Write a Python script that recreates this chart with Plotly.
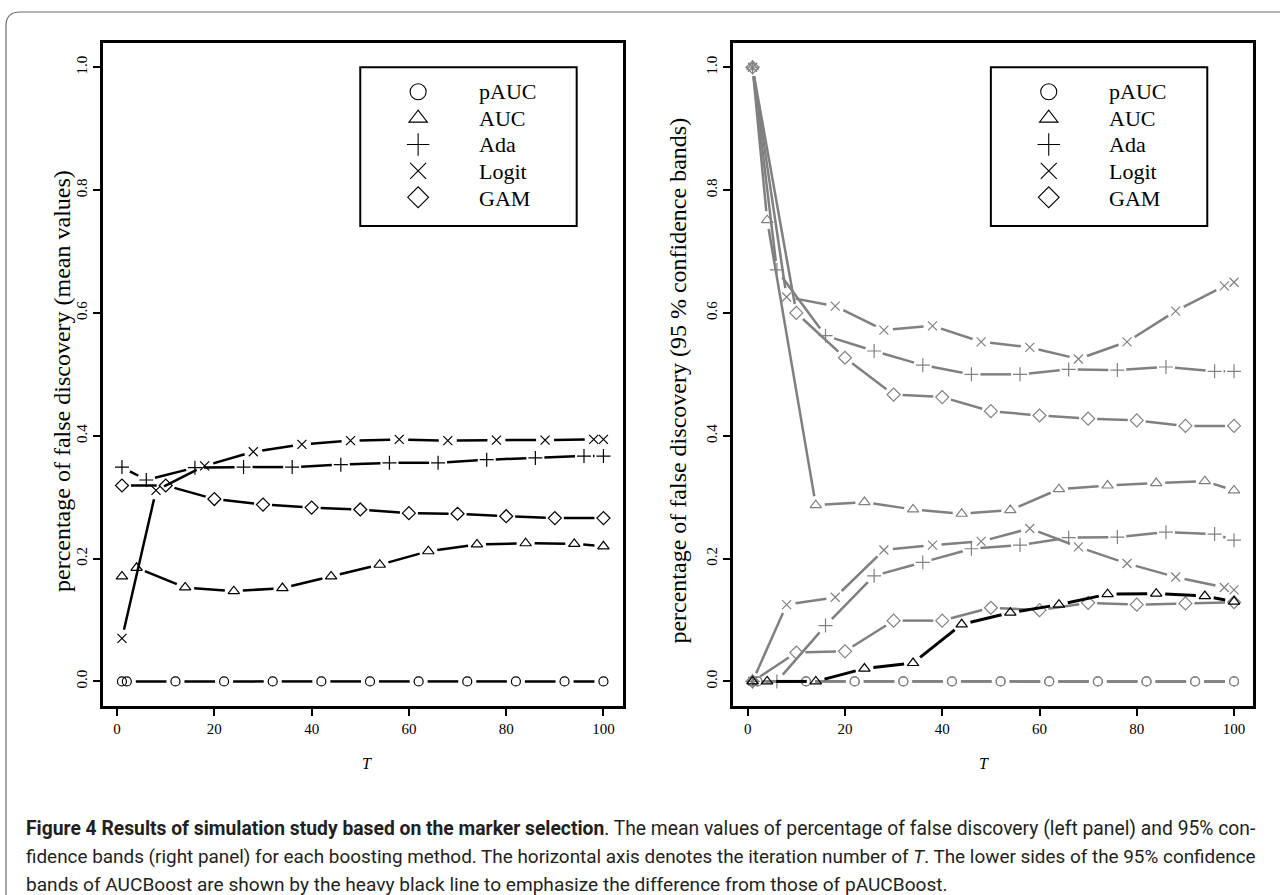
import math
import plotly.graph_objects as go

W, H = 1280, 895

# ---------------- data ----------------
methods = ["pAUC", "AUC", "Ada", "Logit", "GAM"]

T_pAUC = [1, 2, 12, 22, 32, 42, 52, 62, 72, 82, 92, 100]
T_AUC = [1, 4, 14, 24, 34, 44, 54, 64, 74, 84, 94, 100]
T_Ada = [1, 6, 16, 26, 36, 46, 56, 66, 76, 86, 96, 100]
T_Logit = [1, 8, 18, 28, 38, 48, 58, 68, 78, 88, 98, 100]
T_GAM = [1, 10, 20, 30, 40, 50, 60, 70, 80, 90, 100]

# left panel: mean values
pAUC_mean = [0.0, 0.0, 0.0, 0.0, 0.0, 0.0, 0.0, 0.0, 0.0, 0.0, 0.0, 0.0]
AUC_mean = [0.171, 0.185, 0.153, 0.147, 0.152, 0.171, 0.190, 0.212, 0.223, 0.225, 0.224, 0.220]
Ada_mean = [0.349, 0.328, 0.348, 0.349, 0.349, 0.353, 0.356, 0.356, 0.361, 0.364, 0.367, 0.367]
Logit_mean = [0.070, 0.311, 0.351, 0.374, 0.386, 0.392, 0.394, 0.392, 0.393, 0.393, 0.394, 0.394]
GAM_mean = [0.319, 0.319, 0.297, 0.288, 0.283, 0.280, 0.274, 0.273, 0.269, 0.266, 0.266]

# right panel: 95% confidence bands (upper / lower)
pAUC_up = [0.0, 0.0, 0.0, 0.0, 0.0, 0.0, 0.0, 0.0, 0.0, 0.0, 0.0, 0.0]
AUC_up = [1.0, 0.751, 0.287, 0.292, 0.280, 0.273, 0.279, 0.313, 0.319, 0.323, 0.326, 0.311]
Ada_up = [1.0, 0.670, 0.563, 0.538, 0.515, 0.500, 0.500, 0.508, 0.507, 0.512, 0.505, 0.505]
Logit_up = [1.0, 0.626, 0.611, 0.572, 0.579, 0.553, 0.544, 0.525, 0.553, 0.603, 0.644, 0.650]
GAM_up = [1.0, 0.600, 0.527, 0.467, 0.463, 0.440, 0.433, 0.428, 0.425, 0.416, 0.416]

pAUC_lo = [0.0, 0.0, 0.0, 0.0, 0.0, 0.0, 0.0, 0.0, 0.0, 0.0, 0.0, 0.0]
AUC_lo = [0.0, 0.0, 0.0, 0.021, 0.030, 0.093, 0.112, 0.125, 0.142, 0.143, 0.139, 0.130]
Ada_lo = [0.0, 0.0, 0.091, 0.172, 0.194, 0.216, 0.222, 0.234, 0.235, 0.243, 0.240, 0.230]
Logit_lo = [0.0, 0.125, 0.137, 0.214, 0.222, 0.228, 0.249, 0.219, 0.192, 0.170, 0.153, 0.149]
GAM_lo = [0.0, 0.047, 0.049, 0.099, 0.099, 0.120, 0.116, 0.128, 0.125, 0.127, 0.129]

x_ticks = [0, 20, 40, 60, 80, 100]
y_ticks = [0.0, 0.2, 0.4, 0.6, 0.8, 1.0]

left_ylabel = "percentage of false discovery (mean values)"
right_ylabel = "percentage of false discovery (95 % confidence bands)"
caption_lines = [
    "<b>Figure 4 Results of simulation study based on the marker selection</b>. The mean values of percentage of false discovery (left panel) and 95% con-",
    "fidence bands (right panel) for each boosting method. The horizontal axis denotes the iteration number of <i>T</i>. The lower sides of the 95% confidence",
    "bands of AUCBoost are shown by the heavy black line to emphasize the difference from those of pAUCBoost.",
]
caption_sizes = [19.3, 18.9, 19.1]

# ---------------- geometry / styles ----------------
def PX(x):
    return x / W

def PY(y):
    return 1 - y / H

XR = [-2.96, 103.96]
YR = [-0.04, 1.04]
FRAME_L, FRAME_R = (102.7, 622.7), (733.3, 1253.3)
FRAME_TOP, FRAME_BOT = 42.7, 706.0
PLOT_W, PLOT_H = 520.0, FRAME_BOT - FRAME_TOP
KX = PLOT_W / (XR[1] - XR[0])
KY = PLOT_H / (YR[1] - YR[0])

SERIF = "Liberation Serif"
GRAY = "#808080"
symbols = {"pAUC": "circle-open", "AUC": "triangle-up-open", "Ada": "cross-thin-open",
           "Logit": "x-thin-open", "GAM": "diamond-open"}
msize = {"pAUC": 9, "AUC": 10, "Ada": 10, "Logit": 9, "GAM": 10}


def gapped(xs, ys, gap=9.0):
    """R type='b' style: segments between points with gaps around the points."""
    gx, gy = [], []
    for i in range(len(xs) - 1):
        dx = xs[i + 1] - xs[i]
        dy = ys[i + 1] - ys[i]
        L = math.hypot(dx * KX, dy * KY)
        if L <= 2 * gap:
            continue
        f = gap / L
        gx += [xs[i] + f * dx, xs[i + 1] - f * dx, None]
        gy += [ys[i] + f * dy, ys[i + 1] - f * dy, None]
    return gx, gy


fig = go.Figure()


def add_series(xs, ys, name, color, lw, xa, ya):
    gx, gy = gapped(xs, ys)
    fig.add_trace(go.Scatter(x=gx, y=gy, mode="lines", line=dict(color=color, width=lw),
                             showlegend=False, hoverinfo="skip", xaxis=xa, yaxis=ya))
    fig.add_trace(go.Scatter(x=xs, y=ys, mode="markers", name=name, showlegend=False,
                             marker=dict(symbol=symbols[name], size=msize[name], color=color,
                                         line=dict(color=color, width=1.2)),
                             xaxis=xa, yaxis=ya))


# left panel
left = [(T_pAUC, pAUC_mean, "pAUC"), (T_AUC, AUC_mean, "AUC"), (T_Ada, Ada_mean, "Ada"),
        (T_Logit, Logit_mean, "Logit"), (T_GAM, GAM_mean, "GAM")]
for xs, ys, nm in left:
    add_series(xs, ys, nm, "black", 2.5, "x", "y")

# right panel (gray bands, AUC lower band heavy black)
right_gray = [(T_pAUC, pAUC_up, "pAUC"), (T_AUC, AUC_up, "AUC"), (T_Ada, Ada_up, "Ada"),
              (T_Logit, Logit_up, "Logit"), (T_GAM, GAM_up, "GAM"),
              (T_pAUC, pAUC_lo, "pAUC"), (T_Ada, Ada_lo, "Ada"),
              (T_Logit, Logit_lo, "Logit"), (T_GAM, GAM_lo, "GAM")]
for xs, ys, nm in right_gray:
    add_series(xs, ys, nm, GRAY, 2.5, "x2", "y2")
add_series(T_AUC, AUC_lo, "AUC", "black", 3, "x2", "y2")

# legend keys (symbols via plotly legends, labels as annotations)
for lg, xa, ya in [("legend", "x", "y"), ("legend2", "x2", "y2")]:
    for nm in methods:
        fig.add_trace(go.Scatter(x=[None], y=[None], mode="markers", name="\u00a0", legend=lg,
                                 marker=dict(symbol=symbols[nm], size=16, color="black",
                                             line=dict(color="black", width=1.1)),
                                 showlegend=True, hoverinfo="skip", xaxis=xa, yaxis=ya))

axis_common = dict(showgrid=False, zeroline=False, showline=True, mirror=True,
                   linecolor="black", linewidth=3, ticks="outside", ticklen=7,
                   tickwidth=1.5, tickcolor="black",
                   tickfont=dict(family=SERIF, size=15, color="black"))

y_dom = [PY(FRAME_BOT), PY(FRAME_TOP)]

# legend box in axis-domain units
LB_X0, LB_X1, LB_Y0, LB_Y1 = 0.4953, 0.9115, 0.7237, 0.963
SYM_X = 0.6066      # symbol column
TXT_X = 0.7189      # label column
ROW0, ROWSTEP = 91.7, 26.6   # px from top of page

legend_common = dict(xref="paper", yref="paper", xanchor="left", yanchor="top",
                     bgcolor="rgba(0,0,0,0)", borderwidth=0,
                     itemwidth=2 * (SYM_X - LB_X0) * PLOT_W - 10,
                     tracegroupgap=0, font=dict(family=SERIF, size=18, color="black"))

fig.update_layout(
    width=W, height=H, margin=dict(l=0, r=0, t=0, b=0),
    paper_bgcolor="white", plot_bgcolor="white",
    xaxis=dict(domain=[PX(FRAME_L[0]), PX(FRAME_L[1])], range=XR, tickvals=x_ticks,
               anchor="y", **axis_common),
    yaxis=dict(domain=y_dom, range=YR, tickvals=y_ticks, tickformat=".1f", tickangle=-90,
               anchor="x", **axis_common),
    xaxis2=dict(domain=[PX(FRAME_R[0]), PX(FRAME_R[1])], range=XR, tickvals=x_ticks,
                anchor="y2", **axis_common),
    yaxis2=dict(domain=y_dom, range=YR, tickvals=y_ticks, tickformat=".1f", tickangle=-90,
                anchor="x2", **axis_common),
    legend=dict(x=PX(FRAME_L[0] + LB_X0 * PLOT_W), y=PY(ROW0 - 18.2), **legend_common),
    legend2=dict(x=PX(FRAME_R[0] + LB_X0 * PLOT_W), y=PY(ROW0 - 18.2), **legend_common),
    showlegend=True,
)

for xr, yr, xa in [("x domain", "y domain", "x"), ("x2 domain", "y2 domain", "x2")]:
    fig.add_shape(type="rect", xref=xr, yref=yr, x0=LB_X0, x1=LB_X1, y0=LB_Y0, y1=LB_Y1,
                  line=dict(color="black", width=2), fillcolor="rgba(0,0,0,0)")
    for i, nm in enumerate(methods):
        ypx = ROW0 + ROWSTEP * i
        fig.add_annotation(x=TXT_X, y=(FRAME_BOT - ypx) / PLOT_H, xref=xr, yref=yr,
                           xanchor="left", yanchor="middle", text=nm, showarrow=False,
                           font=dict(family=SERIF, size=22, color="black"))

# axis titles
for fr in (FRAME_L, FRAME_R):
    cx = fr[0] + (0 - XR[0]) * KX + 50 * KX
    fig.add_annotation(x=PX(cx), y=PY(774), xref="paper", yref="paper", text="<i>T</i>",
                       showarrow=False, font=dict(family=SERIF, size=16, color="black"))
fig.add_annotation(x=PX(47), y=PY(381), xref="paper", yref="paper", text=left_ylabel,
                   textangle=-90, showarrow=False, font=dict(family=SERIF, size=24, color="black"))
fig.add_annotation(x=PX(677.6), y=PY(381), xref="paper", yref="paper", text=right_ylabel,
                   textangle=-90, showarrow=False, font=dict(family=SERIF, size=24, color="black"))

# caption
for i, line in enumerate(caption_lines):
    fig.add_annotation(x=PX(24), y=PY(828 + 28 * i), xref="paper", yref="paper",
                       xanchor="left", yanchor="middle", text=line, showarrow=False,
                       font=dict(family="Roboto, sans-serif", size=caption_sizes[i],
                                 color="#231f20"))

# outer rounded frame
x0, yt = PX(6), PY(12)
rx, ry = 14 / W, 14 / H
fig.add_shape(type="path", xref="paper", yref="paper",
              path=f"M {x0},{PY(905)} L {x0},{yt - ry} Q {x0},{yt} {x0 + rx},{yt} L {PX(1290)},{yt}",
              line=dict(color="#6d6d6d", width=1.2))

fig.write_html("out.html")
